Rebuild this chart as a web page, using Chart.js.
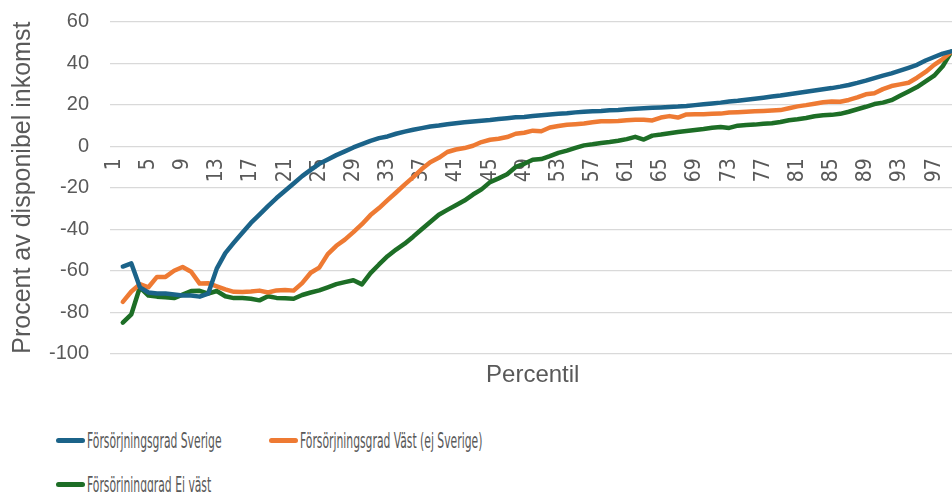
<!DOCTYPE html>
<html>
<head>
<meta charset="utf-8">
<script src="https://cdn.jsdelivr.net/npm/chart.js@4"></script>
<style>
	body { margin: 0; width: 952px; height: 492px; overflow: hidden; background: #fff; }
	#wrap { position: absolute; left: 0; top: 0; width: 960px; height: 400px; }
	.leg { position: absolute; display: flex; align-items: center; white-space: nowrap; }
	.leg .sw { width: 29px; height: 5px; border-radius: 3px; margin-right: 2px; flex: none; }
	.leg .tx { font-family: "Liberation Sans Narrow", "DejaVu Sans Condensed", sans-serif; font-size: 22px; color: #595959; transform: scaleX(0.545); transform-origin: left center; }
</style>
</head>
<body>
<div id="wrap"><canvas id="chart" width="960" height="400"></canvas></div>
<div id="legend"></div>
<script>
const categories = [
	1, 2, 3, 4, 5, 6, 7, 8, 9, 10, 11, 12, 13, 14, 15, 16, 17, 18, 19, 20,
	21, 22, 23, 24, 25, 26, 27, 28, 29, 30, 31, 32, 33, 34, 35, 36, 37, 38, 39, 40,
	41, 42, 43, 44, 45, 46, 47, 48, 49, 50, 51, 52, 53, 54, 55, 56, 57, 58, 59, 60,
	61, 62, 63, 64, 65, 66, 67, 68, 69, 70, 71, 72, 73, 74, 75, 76, 77, 78, 79, 80,
	81, 82, 83, 84, 85, 86, 87, 88, 89, 90, 91, 92, 93, 94, 95, 96, 97, 98, 99
];
const shownTicks = [1, 5, 9, 13, 17, 21, 25, 29, 33, 37, 41, 45, 49, 53, 57, 61, 65, 69, 73, 77, 81, 85, 89, 93, 97];

const sverige = [
	null, -58, -56.5, -68, -70.5, -71, -71, -71.5, -72, -72, -72.5, -71,
	-59, -51.5, -46.5, -41.7, -37, -33, -28.9, -25, -21.5, -18, -14.4, -11.4, -8.5, -6.4, -4.3, -2.5, -0.6, 1, 2.6, 3.9, 4.7,
	6, 7, 7.9, 8.7, 9.5, 10, 10.6, 11.1, 11.5, 11.9, 12.3, 12.6, 13.1, 13.5, 13.9,
	14.1, 14.5, 14.9, 15.3, 15.6, 15.9, 16.3, 16.6, 16.8, 17, 17.3, 17.5, 17.8, 18.1, 18.3, 18.5, 18.7, 18.9, 19.1, 19.4, 19.8, 20.2, 20.6, 21,
	21.5, 21.9, 22.4, 22.9, 23.4, 23.9, 24.4, 25, 25.6, 26.2, 26.8, 27.4, 28, 28.7, 29.5, 30.5, 31.6, 32.8, 34, 35.1, 36.4, 37.8, 39.2, 41.3, 43, 44.6, 45.7
];
const vast = [
	null, -75, -70, -66.5, -68, -63, -63, -60, -58.2, -60.5, -66.2, -66, -67.5, -69, -70.2, -70.3, -70, -69.6, -70.5, -69.5, -69.3, -69.6,
	-66, -61, -58.5, -52, -48, -45, -41.4, -37.6, -33.2, -29.8, -26, -22.3, -18.5, -14.9, -11, -7.7, -5.6, -2.8, -1.6, -0.9, 0.2, 2, 3.1, 3.6, 4.4, 6,
	6.5, 7.5, 7.2, 9, 9.7, 10.3, 10.6, 10.9, 11.5, 12, 12, 12.1, 12.5, 12.7, 12.7, 12.4, 13.8, 14.5, 13.8, 15.3, 15.4, 15.4, 15.6, 15.7,
	16.2, 16.4, 16.6, 16.8, 17, 17.2, 17.4, 18.3, 19.2, 19.8, 20.5, 21.2, 21.5, 21.4, 22.3, 23.5, 25, 25.5, 27.5, 29, 29.8, 30.6, 33, 35.8, 39.2, 42, 45.5
];
const ejVast = [
	null, -85, -81, -68, -72, -72.5, -72.8, -73.2, -71.5, -69.8, -69.7, -71, -69.8, -72.3, -73.2, -73.2, -73.5, -74.3, -72.3, -73.1, -73.3, -73.5,
	-71.7, -70.5, -69.5, -68, -66.5, -65.5, -64.6, -66.6, -61.2, -57, -53, -49.8, -47, -43.6, -40, -36.5, -33, -30.7, -28.5, -26.2, -23.3, -20.8, -17.3, -15.5, -13.5, -10,
	-8.5, -6.5, -6.2, -4.8, -3.2, -2.1, -0.8, 0.4, 0.9, 1.5, 2, 2.6, 3.4, 4.5, 3.2, 5.1, 5.6, 6.2, 6.8, 7.3, 7.8, 8.3, 8.9, 9.3,
	8.8, 9.9, 10.2, 10.4, 10.8, 11.1, 11.7, 12.5, 13, 13.6, 14.4, 14.9, 15.1, 15.6, 16.6, 17.8, 19, 20.3, 21, 22.2, 24.3, 26.4, 28.5, 31.2, 34, 38.5, 45.5
];
const yTicks = [-100, -80, -60, -40, -20, 0, 20, 40, 60];

const textColor = "#595959";
const gridColor = "#d9d9d9";

const line = (label, data, color) => ({
	label: label,
	data: data,
	borderColor: color,
	backgroundColor: color,
	borderWidth: 4.5,
	pointRadius: 0,
	tension: 0,
	borderCapStyle: "round",
	borderJoinStyle: "round",
});

// keep tick labels from pushing the plot area in
const noPadding = (scale) => {
	scale.paddingLeft = 0;
	scale.paddingRight = 0;
	scale.paddingTop = 0;
	scale.paddingBottom = 0;
};

const chart = new Chart(document.getElementById("chart"), {
	type: "line",
	data: {
		labels: categories,
		datasets: [
			line("Försörjningsgrad Sverige", sverige, "#1b6389"),
			line("Försörjningsgrad Väst (ej Sverige)", vast, "#ee7a33"),
			line("Försörjninggrad Ej väst", ejVast, "#1d6e26"),
		],
	},
	options: {
		responsive: false,
		animation: false,
		layout: { padding: { top: 21.7, right: 4.5, bottom: 0, left: 0 } },
		plugins: { legend: { display: false }, tooltip: { enabled: false } },
		scales: {
			x: {
				type: "category",
				position: { y: 0 },
				offset: true,
				grid: { display: false, drawTicks: false },
				border: { display: false },
				ticks: {
					autoSkip: false,
					minRotation: 90,
					maxRotation: 90,
					padding: 12,
					color: textColor,
					font: { family: "Liberation Sans Narrow, DejaVu Sans Condensed, sans-serif", size: 21 },
					callback: (value, index) => shownTicks.includes(categories[index]) ? String(categories[index]) : "",
				},
				afterFit: noPadding,
			},
			x2: {
				type: "category",
				position: "bottom",
				offset: true,
				grid: { display: false, drawTicks: false },
				border: { display: false },
				ticks: { display: false },
				title: {
					display: true,
					text: "Percentil",
					color: textColor,
					padding: { top: 0, bottom: 10 },
					font: { family: "Liberation Sans, Arial, sans-serif", size: 24 },
				},
				afterFit: (scale) => {
					noPadding(scale);
					scale.height = 46.3;
				},
			},
			y: {
				min: -100,
				max: 60,
				afterBuildTicks: (scale) => { scale.ticks = yTicks.map((v) => ({ value: v })); },
				grid: { color: gridColor, lineWidth: 1.3, drawTicks: false },
				border: { display: false },
				ticks: {
					padding: 21,
					color: textColor,
					font: { family: "Liberation Sans, Arial, sans-serif", size: 20 },
				},
				title: {
					display: true,
					text: "Procent av disponibel inkomst",
					color: textColor,
					padding: { top: 8, bottom: 0 },
					font: { family: "Liberation Sans, Arial, sans-serif", size: 25 },
				},
				afterFit: (scale) => {
					noPadding(scale);
					scale.width = 110;
				},
			},
		},
	},
});

// legend laid out like the original: two on the first row, one below
const legendPos = [
	{ left: 56, top: 428 },
	{ left: 269, top: 428 },
	{ left: 56, top: 472 },
];
const legendEl = document.getElementById("legend");
chart.data.datasets.forEach((ds, i) => {
	const item = document.createElement("div");
	item.className = "leg";
	item.style.left = legendPos[i].left + "px";
	item.style.top = legendPos[i].top + "px";
	item.innerHTML = `<span class="sw" style="background:${ds.borderColor}"></span><span class="tx">${ds.label}</span>`;
	legendEl.appendChild(item);
});
</script>
</body>
</html>
